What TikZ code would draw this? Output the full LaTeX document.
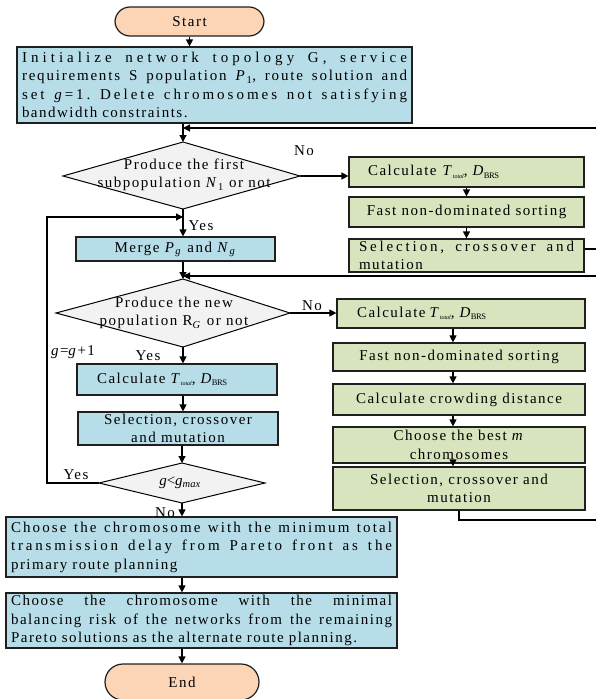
\documentclass[tikz,border=0pt]{standalone}
\usepackage{fontspec}
\setmainfont{Liberation Serif}[LetterSpace=10]
% the same face with other amounts of tracking
\newfontfamily\tN{Liberation Serif}[LetterSpace=-6]
\newfontfamily\tZ{Liberation Serif}[LetterSpace=0]
\newfontfamily\tA{Liberation Serif}[LetterSpace=10]
\newfontfamily\tM{Liberation Serif}[LetterSpace=12]
\newfontfamily\tB{Liberation Serif}[LetterSpace=14]
\newfontfamily\tC{Liberation Serif}[LetterSpace=19]
\newfontfamily\tD{Liberation Serif}[LetterSpace=20]
\newfontfamily\tE{Liberation Serif}[LetterSpace=27]
\usetikzlibrary{arrows.meta}

\definecolor{peach}{HTML}{FBD5B5}
\definecolor{lblue}{HTML}{B7DEE8}
\definecolor{lgreen}{HTML}{D7E4BD}
\definecolor{lgray}{HTML}{F2F2F2}
\definecolor{edgec}{HTML}{1F1F1F}

% a spread line of given width in a given tracking; words are separated by \w
\newcommand{\w}{\hspace{0pt plus 1fill}\ }
\newcommand{\jl}[3]{\leavevmode\hbox to #1{#2#3}\\}
\newcommand{\Ttot}{\textit{T}\kern-0.5pt\raisebox{-2.5pt}{\fontsize{6}{6}\tZ\textit{total}}}
\newcommand{\Dbrs}{\textit{D}\kern-1pt\raisebox{-2.5pt}{\fontsize{8.5}{8.5}\tN BRS}}

\tikzset{
  base/.style={font=\fontsize{15}{18.5}\selectfont},
  box/.style={draw=edgec, line width=1.2pt, inner sep=0pt, base},
  bbox/.style={box, fill=lblue},
  gbox/.style={box, fill=lgreen},
  pill/.style={box, fill=peach, rounded corners=15pt},
  dia/.style={draw=black, line width=1pt, fill=lgray},
  arr/.style={line width=1.2pt, -{Triangle[length=7pt,width=7pt]}},
  lbl/.style={base, inner sep=0pt},
}

\begin{document}
\begin{tikzpicture}[x=1pt,y=-1pt]
\useasboundingbox (0,0) rectangle (595,699);

% ---- main column ----
\node[pill, minimum width=149pt, minimum height=29pt] (start) at (189.5,21.5) {Start};

\node[bbox, minimum width=395pt, minimum height=76pt, text width=385pt, inner xsep=5pt, align=left] (init) at (214.5,85)
  {\jl{385pt}{\tE}{Initialize\w network\w topology\w G,\w service}\jl{385pt}{\tM}{requirements\w S\w population\w \textit{P}\textsubscript{1},\w route\w solution\w and}\jl{385pt}{\tD}{set\w \textit{g}=1.\w Delete\w chromosomes\w not\w satisfying}bandwidth constraints.};

% decision 1
\coordinate (d1t) at (183,142); \coordinate (d1r) at (300,176);
\coordinate (d1b) at (183,209); \coordinate (d1l) at (63,176);
\draw[dia] (d1t) -- (d1r) -- (d1b) -- (d1l) -- cycle;
\node[lbl, align=center] (q1) at (184,175) {Produce the first\\subpopulation \textit{N}\textsubscript{1} or not};

\node[bbox, minimum width=199pt, minimum height=24pt] (merge) at (175.5,249)
  {Merge \textit{P}\textsubscript{\textit{g}} and \textit{N}\textsubscript{\textit{g}}};

% decision 2
\coordinate (d2t) at (183,279); \coordinate (d2r) at (290,313);
\coordinate (d2b) at (183,347); \coordinate (d2l) at (56,313);
\draw[dia] (d2t) -- (d2r) -- (d2b) -- (d2l) -- cycle;
\node[lbl, align=center] (q2) at (174,313) {Produce the new\\population R\textsubscript{\textit{G}} or not};

\node[bbox, minimum width=200pt, minimum height=31pt, text width=160pt, inner xsep=20pt, align=left] (bcalc) at (177,379.5)
  {Calculate \Ttot, \Dbrs};
\node[bbox, minimum width=200pt, minimum height=33pt, align=center] (bsel) at (178,428.5)
  {Selection, crossover\\and mutation};

% decision 3
\coordinate (d3t) at (182,463); \coordinate (d3r) at (265,483);
\coordinate (d3b) at (182,503); \coordinate (d3l) at (99,483);
\draw[dia] (d3t) -- (d3r) -- (d3b) -- (d3l) -- cycle;
\node[lbl] (q3) at (180,483) {\tZ\textit{g}<\textit{g}\textsubscript{\textit{max}}};

\node[bbox, minimum width=391pt, minimum height=60pt, text width=381pt, inner xsep=5pt, align=left] (big1) at (201.5,547)
  {\jl{381pt}{\tB}{Choose\w the\w chromosome\w with\w the\w minimum\w total}\jl{381pt}{\tC}{transmission\w delay\w from\w Pareto\w front\w as\w the}primary route planning};
\node[bbox, minimum width=391pt, minimum height=55pt, text width=381pt, inner xsep=5pt, align=left] (big2) at (201.5,620.5)
  {\jl{381pt}{\tA}{Choose\w the\w chromosome\w with\w the\w minimal}\jl{381pt}{\tA}{balancing\w risk\w of\w the\w networks\w from\w the\w remaining}Pareto solutions as the alternate route planning.};

\node[pill, minimum width=154pt, minimum height=36pt, rounded corners=18pt] (end) at (182,682) {End};

% ---- first sub-loop ----
\node[gbox, minimum width=235pt, minimum height=30pt, text width=197pt, inner xsep=19pt, align=left] (g1) at (466.5,172)
  {Calculate\hspace{6pt}\Ttot, \Dbrs};
\node[gbox, minimum width=235pt, minimum height=30pt] (g2) at (466.5,212) {Fast non-dominated sorting};
\node[gbox, minimum width=235pt, minimum height=33pt, text width=215pt, inner xsep=10pt, align=left] (g3) at (466.5,255.5)
  {\jl{215pt}{\tC}{Selection,\w crossover\w and}mutation};

% ---- second sub-loop ----
\node[gbox, minimum width=248pt, minimum height=29pt, text width=208pt, inner xsep=20pt, align=left] (g4) at (461,313.5)
  {Calculate\hspace{4pt}\Ttot, \Dbrs};
\node[gbox, minimum width=252pt, minimum height=28pt] (g5) at (459,357) {Fast non-dominated sorting};
\node[gbox, minimum width=252pt, minimum height=31pt] (g6) at (459,399.5) {Calculate crowding distance};
\node[gbox, minimum width=252pt, minimum height=36pt, align=center] (g7) at (459,445) {Choose the best \textit{m}\\chromosomes};
\node[gbox, minimum width=252pt, minimum height=43pt, align=center] (g8) at (459,488.5) {Selection, crossover and\\mutation};

% ---- labels ----
\node[lbl] (no1) at (304,151) {No};
\node[lbl] (yes1) at (201,226) {Yes};
\node[lbl] (no2) at (312,306) {No};
\node[lbl] (yes2) at (148,356) {Yes};
\node[lbl] (ginc) at (73,352) {\textit{g}=\textit{g}+1};
\node[lbl] (yes3) at (76,475) {Yes};
\node[lbl] (no3) at (165,513) {No};

% ---- junctions and routing points ----
\coordinate (j1) at (183,128);
\coordinate (j2) at (183,217);
\coordinate (j3) at (183,276);
\coordinate (rr) at (610,0);
\coordinate (lx) at (47,0);
\coordinate (out1) at (0,249);
\coordinate (out2) at (0,520);
\coordinate (gc) at (453,0);

% ---- connectors ----
\draw[arr] (start.south) -- (start.south |- init.north);
\draw[arr] (init.south -| d1t) -- (d1t);
\draw[arr] (d1r) -- (d1r -| g1.west);
\draw[arr] (g1.south) -- (g2.north);
\draw[arr] (g2.south) -- (g3.north);
\draw[arr] (g3.east |- out1) -- (rr |- out1) -- (rr |- j1) -- (j1);
\draw[arr] (d1b) -- (d1b |- merge.north);
\draw[arr] (merge.south -| d2t) -- (d2t);
\draw[arr] (d2r) -- (d2r -| g4.west);
\draw[arr] (g4.south -| gc) -- (g5.north -| gc);
\draw[arr] (g5.south -| gc) -- (g6.north -| gc);
\draw[arr] (g6.south -| gc) -- (g7.north -| gc);
\draw[arr] (g7.south -| gc) -- (g8.north -| gc);
\draw[arr] (g8.south) -- (g8.south |- out2) -- (rr |- out2) -- (rr |- j3) -- (j3);
\draw[arr] (d2b) -- (d2b |- bcalc.north);
\draw[arr] (bcalc.south -| d2b) -- (bsel.north -| d2b);
\draw[arr] (bsel.south -| d3t) -- (d3t);
\draw[arr] (d3l) -- (d3l -| lx) -- (lx |- j2) -- (j2);
\draw[arr] (d3b) -- (d3b |- big1.north);
\draw[arr] (big1.south -| d3b) -- (big2.north -| d3b);
\draw[arr] (big2.south -| end) -- (end.north);
\end{tikzpicture}
\end{document}
